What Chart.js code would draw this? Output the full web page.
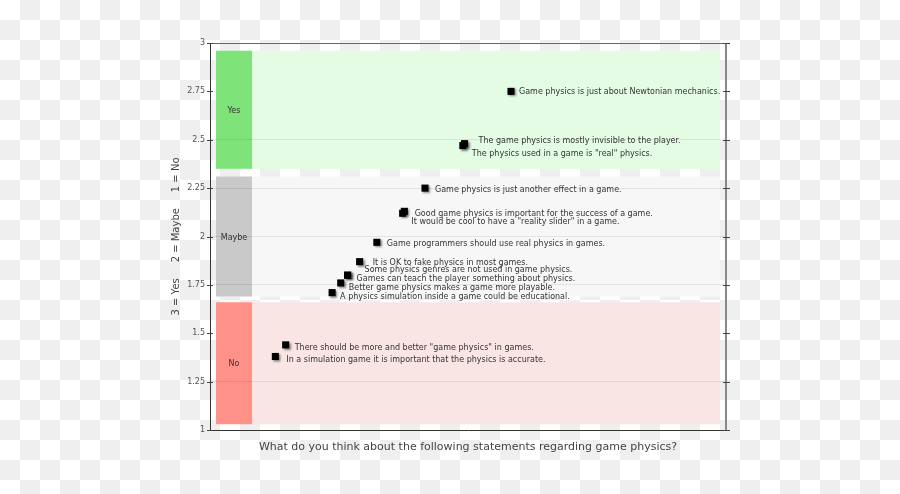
<!DOCTYPE html>
<html>
<head>
<meta charset="utf-8">
<script src="https://cdn.jsdelivr.net/npm/chart.js@4.4.0/dist/chart.umd.min.js"></script>
<style>
    html, body {
        margin: 0;
        padding: 0;
    }
    body {
        width: 900px;
        height: 494px;
        background: repeating-conic-gradient(#efefef 0 25%, #ffffff 0 50%) 0 0 / 40px 40px;
    }
    #wrap {
        position: relative;
        width: 900px;
        height: 494px;
    }
</style>
</head>
<body>
<div id="wrap"><canvas id="chart" width="900" height="494"></canvas></div>
<script>
// Statements and their average score (3 = Yes, 2 = Maybe, 1 = No)
const statements = [
    'Game physics is just about Newtonian mechanics.',
    'The game physics is mostly invisible to the player.',
    'The physics used in a game is "real" physics.',
    'Game physics is just another effect in a game.',
    'Good game physics is important for the success of a game.',
    'It would be cool to have a "reality slider" in a game.',
    'Game programmers should use real physics in games.',
    'It is OK to fake physics in most games.',
    'Some physics genres are not used in game physics.',
    'Games can teach the player something about physics.',
    'Better game physics makes a game more playable.',
    'A physics simulation inside a game could be educational.',
    'There should be more and better "game physics" in games.',
    'In a simulation game it is important that the physics is accurate.'
];
const scores = [2.75, 2.48, 2.47, 2.25, 2.12, 2.13, 1.97, 1.87, 1.80, 1.80, 1.76, 1.71, 1.44, 1.38];

// answer bands
const bandNames = ['Yes', 'Maybe', 'No'];
const bandFrom = [2.35, 1.69, 1.03];
const bandTo = [2.96, 2.31, 1.66];

const yTicks = [1, 1.25, 1.5, 1.75, 2, 2.25, 2.5, 2.75, 3];

// label nudges so the texts don't overlap (pixels)
const labelShift = [
    [8, 1], [14, -3], [9, 8], [10, 2], [12, 1], [7, 11], [10, 2],
    [13, 1], [17, -5], [9, 4], [8, 5], [8, 4], [9, 3], [11, 3]
];

const bandColors = {
    Yes: { block: '#7ee47a', fill: '#e4fce4' },
    Maybe: { block: '#c9c9c9', fill: '#f7f7f7' },
    No: { block: '#ff9189', fill: '#f9e6e4' }
};

const FONT = 'DejaVu Sans, Verdana, sans-serif';

const bandsPlugin = {
    id: 'bands',
    beforeDraw(chart) {
        const { ctx, chartArea, scales } = chart;
        const y = scales.y;
        const left = chartArea.left + 6;
        const right = chartArea.right - 6;
        ctx.save();
        bandNames.forEach((name, i) => {
            const top = y.getPixelForValue(bandTo[i]);
            const bottom = y.getPixelForValue(bandFrom[i]);
            ctx.fillStyle = bandColors[name].fill;
            ctx.fillRect(left, top, right - left, bottom - top);
            ctx.fillStyle = bandColors[name].block;
            ctx.fillRect(left, top, 36, bottom - top);
            ctx.fillStyle = '#333';
            ctx.font = '8px ' + FONT;
            ctx.textAlign = 'center';
            ctx.textBaseline = 'middle';
            ctx.fillText(name, left + 18, (top + bottom) / 2 + 1);
        });
        ctx.restore();
    },
    beforeDatasetsDraw(chart) {
        const { ctx, chartArea, scales } = chart;
        // frame and crossing tick marks
        ctx.save();
        ctx.lineWidth = 1;
        ctx.strokeStyle = '#666';
        ctx.beginPath();
        ctx.moveTo(chartArea.left, chartArea.top + 0.5);
        ctx.lineTo(chartArea.right, chartArea.top + 0.5);
        ctx.stroke();
        ctx.strokeStyle = '#888';
        ctx.lineWidth = 2;
        ctx.beginPath();
        ctx.moveTo(chartArea.right, chartArea.top);
        ctx.lineTo(chartArea.right, chartArea.bottom);
        ctx.stroke();
        ctx.lineWidth = 1;
        ctx.strokeStyle = '#444';
        yTicks.forEach(v => {
            const py = Math.round(scales.y.getPixelForValue(v)) + 0.5;
            ctx.beginPath();
            ctx.moveTo(chartArea.left - 3, py);
            ctx.lineTo(chartArea.left + 3, py);
            ctx.moveTo(chartArea.right - 3, py);
            ctx.lineTo(chartArea.right + 4, py);
            ctx.stroke();
        });
        ctx.restore();
        // shadow for the markers
        ctx.save();
        ctx.shadowColor = 'rgba(0, 0, 0, 0.45)';
        ctx.shadowBlur = 2;
        ctx.shadowOffsetX = 1.5;
        ctx.shadowOffsetY = 1.5;
    },
    afterDatasetsDraw(chart) {
        const { ctx } = chart;
        ctx.restore();
        const meta = chart.getDatasetMeta(0);
        ctx.save();
        ctx.fillStyle = '#333';
        ctx.font = '8px ' + FONT;
        ctx.textAlign = 'left';
        ctx.textBaseline = 'middle';
        meta.data.forEach((pt, i) => {
            const [dx, dy] = labelShift[i];
            ctx.fillText(statements[i], pt.x + dx, pt.y + dy);
        });
        ctx.restore();
    }
};

const ctx = document.getElementById('chart').getContext('2d');
new Chart(ctx, {
    type: 'scatter',
    data: {
        datasets: [{
            data: scores.map(s => ({ x: s, y: s })),
            pointStyle: 'rect',
            pointRadius: 5,
            pointHoverRadius: 5,
            backgroundColor: '#000',
            borderColor: '#000',
            borderWidth: 0
        }]
    },
    options: {
        responsive: false,
        animation: false,
        events: [],
        layout: {
            padding: { left: 0, right: 174, top: 43, bottom: 0 }
        },
        plugins: {
            legend: { display: false },
            tooltip: { enabled: false }
        },
        scales: {
            x: {
                type: 'linear',
                min: 1,
                max: 4,
                ticks: { display: false },
                grid: { display: false },
                border: { display: true, color: '#333', width: 1 },
                title: {
                    display: true,
                    text: 'What do you think about the following statements regarding game physics?',
                    color: '#444',
                    font: { family: FONT, size: 11 },
                    padding: { top: 0, bottom: 40 }
                },
                afterFit(scale) {
                    scale.height = 64;
                }
            },
            y: {
                type: 'linear',
                min: 1,
                max: 3,
                afterBuildTicks(scale) {
                    scale.ticks = yTicks.map(v => ({ value: v }));
                },
                ticks: {
                    color: '#555',
                    font: { family: FONT, size: 8 },
                    padding: 5,
                    callback: value => String(value)
                },
                grid: {
                    drawTicks: false,
                    color: ctx => {
                        const v = ctx.tick ? ctx.tick.value : null;
                        if (v === 2.75 || v === 1.5 || v === 1 || v === 3) return 'rgba(0,0,0,0)';
                        return 'rgba(0, 0, 0, 0.08)';
                    }
                },
                border: { display: true, color: '#333', width: 1 },
                title: {
                    display: true,
                    text: '3 = Yes     2 = Maybe     1 = No',
                    color: '#444',
                    font: { family: FONT, size: 10 },
                    padding: { top: 170, bottom: 0 }
                },
                afterFit(scale) {
                    scale.width = 210;
                }
            }
        }
    },
    plugins: [bandsPlugin]
});
</script>
</body>
</html>
